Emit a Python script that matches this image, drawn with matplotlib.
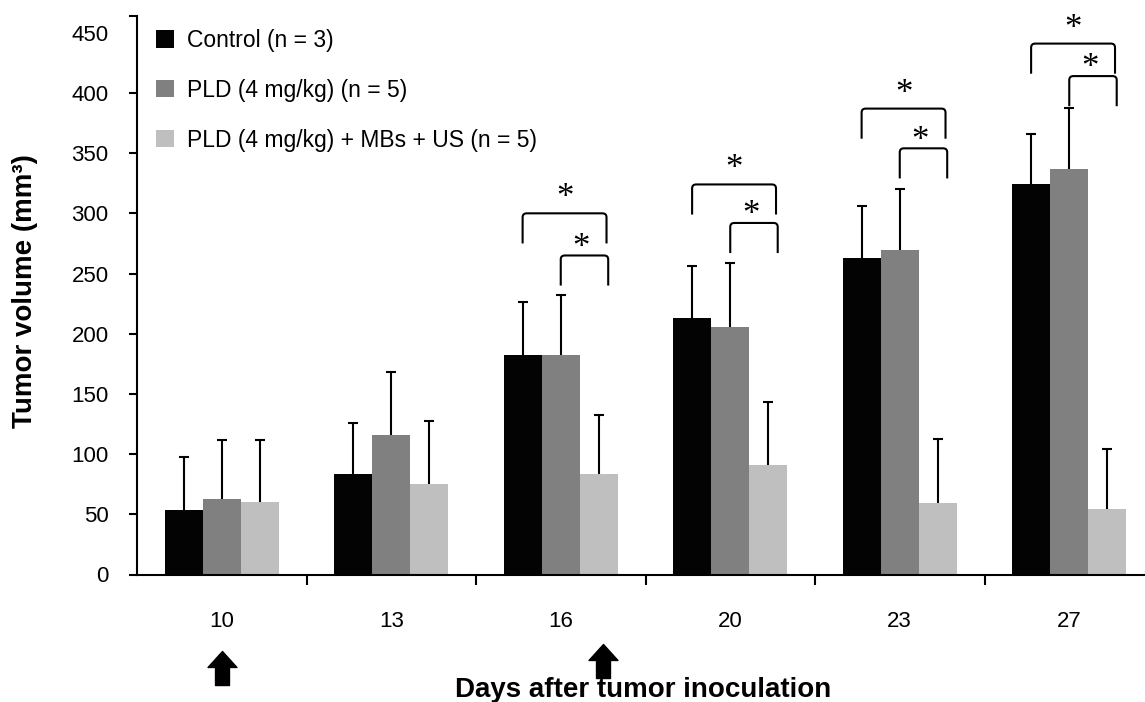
import matplotlib.pyplot as plt
import numpy as np
from matplotlib.path import Path
from matplotlib.patches import PathPatch

plt.rcParams['font.family'] = ['Liberation Sans', 'DejaVu Sans']

# Data
days = [10, 13, 16, 20, 23, 27]
control = [53.6, 83.2, 182, 213, 263, 324]
control_err = [44, 43, 44, 43, 43, 42]
pld = [62.7, 115.9, 182, 205.6, 269.5, 336.8]
pld_err = [49, 52, 50, 53, 51, 51]
combo = [60, 75.2, 83.5, 91, 59.4, 54.4]
combo_err = [52, 52, 49, 52, 53, 50]

labels = ['Control (n = 3)', 'PLD (4 mg/kg) (n = 5)', 'PLD (4 mg/kg) + MBs + US (n = 5)']
colors = ['#030303', '#808080', '#bfbfbf']

# significance brackets (outer: control vs combo, inner: PLD vs combo)
sig_days = [16, 20, 23, 27]
outer_top = [300, 324, 387, 441]
inner_top = [265, 292, 354, 414]
treatment_days = [10, 17]

W, H = 1145, 702
fig = plt.figure(figsize=(W / 100, H / 100), dpi=100)
ax = fig.add_axes([137 / W, (H - 574.5) / H, 1017 / W, 558.6 / H])

x = np.arange(len(days))
bw = 0.224
series = [(control, control_err), (pld, pld_err), (combo, combo_err)]
handles = []
for k, (vals, errs) in enumerate(series):
    xs = x + (k - 1) * bw
    b = ax.bar(xs, vals, width=bw, color=colors[k], edgecolor='none', zorder=2)
    handles.append(b)
    tops = np.array(vals) + np.array(errs)
    ax.vlines(xs, vals, tops, color='black', lw=1.5, zorder=3)
    ax.plot(xs, tops, ls='none', marker='_', ms=7.5, mew=1.5, color='black', zorder=3)

ax.set_xlim(-0.5, 5.5)
ax.set_ylim(0, 464)

for s in ['top', 'right']:
    ax.spines[s].set_visible(False)
for s in ['left', 'bottom']:
    ax.spines[s].set_linewidth(1.5)

ax.set_yticks(np.arange(0, 451, 50))
ax.set_yticks([464], minor=True)
ax.tick_params(axis='y', which='both', direction='out', length=5.5, width=1.5,
               labelsize=16, pad=15)
ax.yaxis.get_major_ticks()[-1].tick1line.set_visible(False)

ax.set_xticks(x)
ax.set_xticklabels([str(d) for d in days])
ax.set_xticks(x[:-1] + 0.5, minor=True)
ax.tick_params(axis='x', which='major', length=0, labelsize=16, pad=26)
ax.tick_params(axis='x', which='minor', direction='out', length=7.5, width=1.5)


def bracket(x0, x1, top, leg=25, rx=0.024, ry=3.3):
    verts = [(x0, top - leg), (x0, top - ry), (x0, top), (x0 + rx, top),
             (x1 - rx, top), (x1, top), (x1, top - ry), (x1, top - leg)]
    codes = [Path.MOVETO, Path.LINETO, Path.CURVE3, Path.CURVE3,
             Path.LINETO, Path.CURVE3, Path.CURVE3, Path.LINETO]
    ax.add_patch(PathPatch(Path(verts, codes), fill=False, lw=1.5,
                           edgecolor='black', zorder=4, clip_on=False))


for d, ot, it in zip(sig_days, outer_top, inner_top):
    c = days.index(d)
    ox0, ox1 = c - 0.225, c + 0.27
    ix0, ix1 = c + 0.0, c + 0.28
    bracket(ox0, ox1, ot)
    bracket(ix0, ix1, it)
    ax.text((ox0 + ox1) / 2, ot + 12, '*', family='Liberation Serif', fontsize=25,
            ha='center', va='center')
    ax.text((ix0 + ix1) / 2 - 0.02, it + 6, '*', family='Liberation Serif', fontsize=25,
            ha='center', va='center')

# treatment arrows
arrow = Path([(0, 0.5), (0.425, 0.03), (0.205, 0.03), (0.205, -0.5),
              (-0.205, -0.5), (-0.205, 0.03), (-0.425, 0.03), (0, 0.5)],
             [Path.MOVETO] + [Path.LINETO] * 6 + [Path.CLOSEPOLY])
arrow_x = np.interp(treatment_days, days, x)
for ax_x, yf in zip(arrow_x, [-0.167, -0.154]):
    ax.plot([ax_x], [yf], marker=arrow, ms=24.5, color='black', mec='black',
            transform=ax.get_xaxis_transform(), clip_on=False)

ax.legend(handles, labels, loc='upper left', bbox_to_anchor=(156 / W, 1 - 29 / H),
          bbox_transform=fig.transFigure, frameon=False, borderpad=0, borderaxespad=0,
          handlelength=0.77, handleheight=0.77, handletextpad=0.6, labelspacing=1.17,
          fontsize=16.5)

fig.text(25 / W, 1 - 291 / H, 'Tumor volume (mm³)', rotation=90, ha='center',
         va='center', fontsize=20, fontweight='bold')
fig.text(643 / W, 1 - 690 / H, 'Days after tumor inoculation', ha='center',
         va='center', fontsize=20, fontweight='bold')

fig.savefig('out.png', dpi=100)
